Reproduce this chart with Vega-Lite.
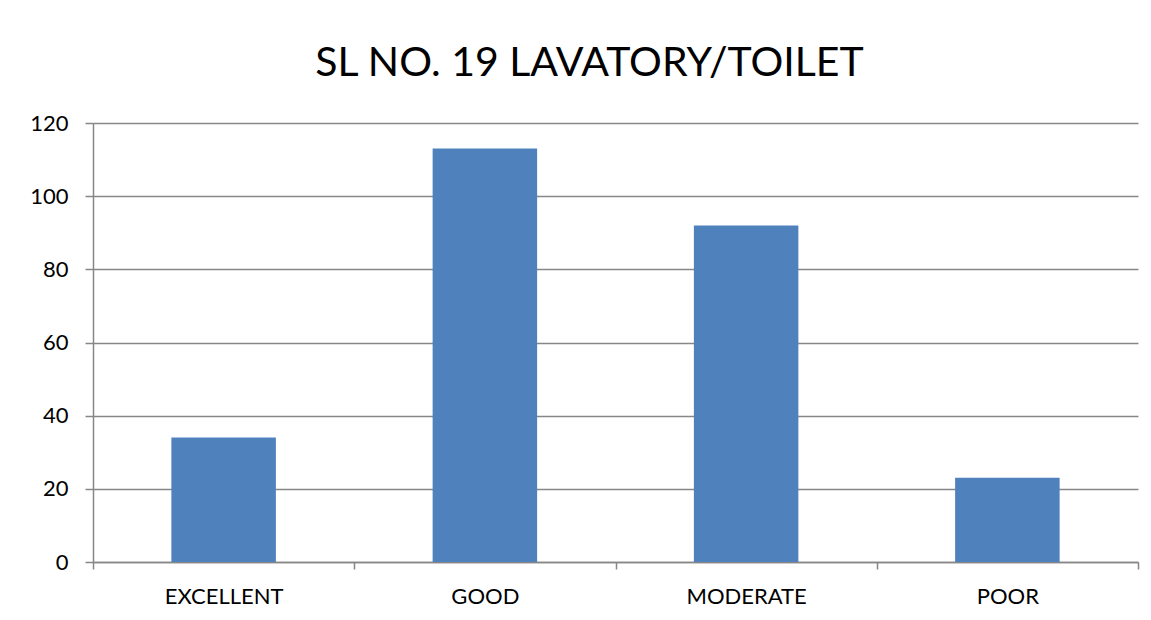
{
  "$schema": "https://vega.github.io/schema/vega-lite/v6.json",
  "width": 1045,
  "height": 439,
  "autosize": "none",
  "padding": {"left": 93, "top": 123, "right": 13, "bottom": 58},
  "background": "white",
  "config": {
    "view": {"stroke": null},
    "font": "Lato"
  },
  "title": {
    "text": "SL NO. 19 LAVATORY/TOILET",
    "fontSize": 41,
    "font": "Lato",
    "fontWeight": "normal",
    "color": "#000000",
    "anchor": "middle",
    "frame": "group",
    "dx": -26,
    "offset": 27
  },
  "data": {
    "values": [
      {"category": "EXCELLENT", "count": 34},
      {"category": "GOOD", "count": 113},
      {"category": "MODERATE", "count": 92},
      {"category": "POOR", "count": 23}
    ]
  },
  "mark": {"type": "bar", "color": "#4F81BD", "width": {"band": 0.4}},
  "encoding": {
    "x": {
      "field": "category",
      "type": "nominal",
      "sort": null,
      "scale": {"paddingInner": 0, "paddingOuter": 0},
      "axis": {
        "title": null,
        "labelAngle": 0,
        "labelFontSize": 22,
        "labelColor": "#000000",
        "labelFont": "Lato",
        "labelPadding": 17,
        "tickBand": "extent",
        "tickSize": 7,
        "tickColor": "#878787",
        "tickWidth": 1.5,
        "domainColor": "#878787",
        "domainWidth": 1.5,
        "grid": false
      }
    },
    "y": {
      "field": "count",
      "type": "quantitative",
      "scale": {"domain": [0, 120], "nice": false},
      "axis": {
        "title": null,
        "values": [0, 20, 40, 60, 80, 100, 120],
        "labelFontSize": 22,
        "labelColor": "#000000",
        "labelFont": "Lato",
        "labelPadding": 17,
        "tickSize": 8,
        "tickColor": "#878787",
        "tickWidth": 1.5,
        "domainColor": "#878787",
        "domainWidth": 1.5,
        "grid": true,
        "gridColor": "#878787",
        "gridWidth": 1.5
      }
    }
  }
}
